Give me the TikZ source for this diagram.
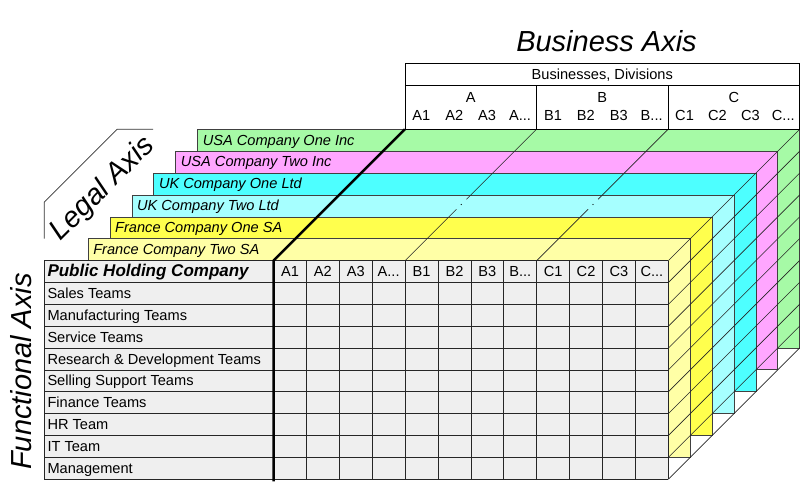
\documentclass[tikz,border=0pt]{standalone}
\usepackage{fontspec}
\setmainfont{Liberation Sans}
\definecolor{lgreen}{HTML}{A6FAA6}
\definecolor{lpink}{HTML}{FFA6FF}
\definecolor{cyanb}{HTML}{4DFFFF}
\definecolor{lcyan}{HTML}{A6FFFF}
\definecolor{yel}{HTML}{FFFF4D}
\definecolor{lyel}{HTML}{FFFFA6}
\definecolor{cellg}{HTML}{EFEFEF}
\newcommand{\tridot}{...}
\begin{document}
\begin{tikzpicture}[x=1pt,y=-1pt,
  txt/.style={font=\fontsize{14.6}{16}\selectfont, inner sep=0pt},
  itxt/.style={font=\itshape\fontsize{14.6}{16}\selectfont, inner sep=0pt},
  axistxt/.style={font=\itshape\fontsize{29}{32}\selectfont, inner sep=0pt},
  lay/.style={draw=black!75, line width=0.8pt},
  gridln/.style={draw=black!85, line width=0.8pt},
  hatch/.style={draw=black!85, line width=0.6pt},
  thickln/.style={draw=black, line width=2.5pt, line join=round},
  hdr/.style={draw=black, line width=0.8pt}]
\def\Xo{44.3}\def\XL{273.5}\def\XR{668.3}\def\YT{260.7}\def\YB{479.3}
\def\rh{21.86}\def\cw{32.9}\def\dd{21.9}
\pgfmathsetmacro\HL{\XL+6*\dd}
\pgfmathsetmacro\HR{\XR+6*\dd}
\pgfmathsetmacro\HB{\YT-6*\dd}
\useasboundingbox (0,0) rectangle (800,503);

% legal layers, back to front
\foreach \k/\col/\lbl in {6/lgreen/USA Company One Inc, 5/lpink/USA Company Two Inc, 4/cyanb/UK Company One Ltd, 3/lcyan/UK Company Two Ltd, 2/yel/France Company One SA, 1/lyel/France Company Two SA}{
  \path[lay, fill=\col] ({\Xo+\dd*(\k+1)},{\YT-\dd*\k}) rectangle ({\XR+\dd*\k},{\YB-\dd*\k});
  \node[itxt, anchor=base west] (L\k) at ({\Xo+\dd*(\k+1)+5},{\YT-\dd*\k+\dd/2+4.8}) {\lbl};
}

% front grid
\fill[cellg] (\Xo,\YT) rectangle (\XR,\YB);
\foreach \i in {0,...,10} \draw[gridln] (\Xo,{\YT+\i*\rh}) -- (\XR,{\YT+\i*\rh});
\foreach \j in {1,...,12} \draw[gridln] ({\XL+\j*\cw},\YT) -- ({\XL+\j*\cw},\YB);
\draw[gridln] (\Xo,\YT) -- (\Xo,\YB);

\node[txt, font=\bfseries\itshape\fontsize{17}{19}\selectfont, anchor=base west] (R0) at ({\Xo+3},{\YT+0.5*\rh+5.3}) {Public Holding Company};
\foreach \i/\t in {1/Sales Teams, 2/Manufacturing Teams, 3/Service Teams, 4/Research \& Development Teams, 5/Selling Support Teams, 6/Finance Teams, 7/HR Team, 8/IT Team, 9/Management}
  \node[txt, anchor=base west] (R\i) at ({\Xo+3},{\YT+(\i+0.5)*\rh+5}) {\t};

% hatching on the right faces
\foreach \i in {0,...,10} \draw[hatch] (\XR,{\YT+\i*\rh}) -- ++({6*\dd},{-6*\dd});

% receding column dividers (with the small break)
\foreach \bx in {\XL+4*\cw, \XL+8*\cw}{
  \draw[hatch] ({\bx},\YT) -- ++(51.4,-51.4);
  \fill[black] ({\bx+56.2},{\YT-56.2}) circle (0.6);
  \draw[hatch] ({\bx+61.4},{\YT-61.4}) -- ({\bx+6*\dd},\HB);
}

% thick separator
\draw[thickln] (\XL,{\YB+2}) -- (\XL,\YT) -- ++({6*\dd},{-6*\dd});

% business header
\draw[hdr, fill=white] (\HL,63.7) rectangle (\HR,\HB);
\draw[hdr] (\HL,85) -- (\HR,85);
\draw[hdr] ({\HL+4*\cw},85) -- ({\HL+4*\cw},\HB);
\draw[hdr] ({\HL+8*\cw},85) -- ({\HL+8*\cw},\HB);
\node[txt, anchor=base] (BD) at ({(\HL+\HR)/2},79) {Businesses, Divisions};
\node[txt, anchor=base] (GA) at ({\HL+2*\cw},102.5) {A};
\node[txt, anchor=base] (GB) at ({\HL+6*\cw},102.5) {B};
\node[txt, anchor=base] (GC) at ({\HL+10*\cw},102.5) {C};

% column labels, front grid and header
\foreach \j/\t in {1/A1, 2/A2, 3/A3, 4/A\tridot, 5/B1, 6/B2, 7/B3, 8/B\tridot, 9/C1, 10/C2, 11/C3, 12/C\tridot}{
  \node[txt, anchor=base] (C\j) at ({\XL+(\j-0.5)*\cw},{\YT+0.5*\rh+4.9}) {\t};
  \node[txt, anchor=base] (H\j) at ({\HL+(\j-0.5)*\cw},120.3) {\t};
}

% axis titles
\node[axistxt, anchor=base] (BA) at (606.5,51.7) {Business Axis};
\node[axistxt, rotate=90] (FA) at (21.5,371.5) {Functional Axis};
\node[axistxt, rotate=45] (LA) at (103,189) {Legal Axis};
\draw[line width=0.7pt, black!80] (44.3,238.5) -- (44.3,202) -- (117,129.3) -- (153,129.3);
\end{tikzpicture}
\end{document}
